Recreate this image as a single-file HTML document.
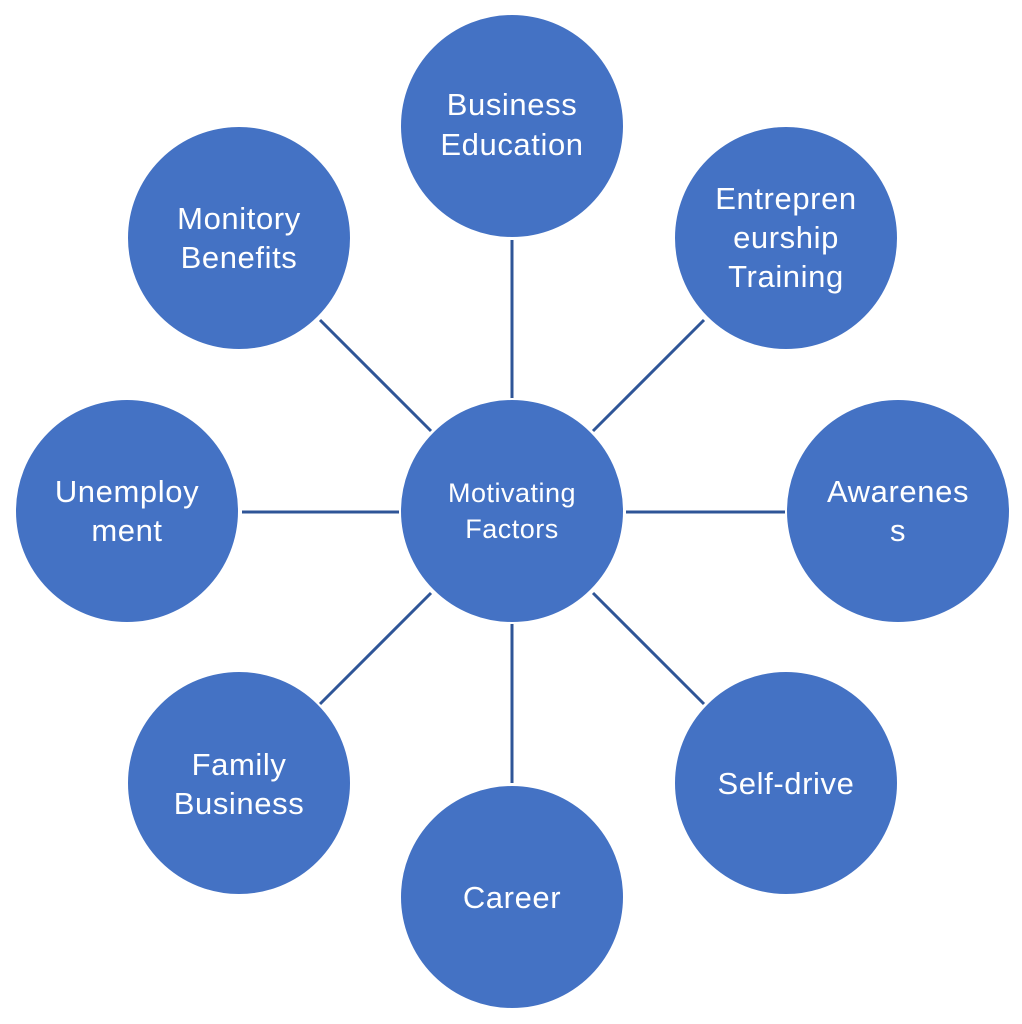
<!DOCTYPE html>
<html><head><style>body{margin:0;background:#fff}</style></head><body>
<svg width="1022" height="1024" xmlns="http://www.w3.org/2000/svg" style="display:block">
<g stroke="#2F5597" stroke-width="3">
<line x1="512" y1="240" x2="512" y2="399"/>
<line x1="512" y1="624" x2="512" y2="783"/>
<line x1="242" y1="512" x2="399" y2="512"/>
<line x1="626" y1="512" x2="785" y2="512"/>
<line x1="593" y1="431" x2="704" y2="320"/>
<line x1="431" y1="431" x2="320" y2="320"/>
<line x1="593" y1="593" x2="704" y2="704"/>
<line x1="431" y1="593" x2="320" y2="704"/>
</g>
<g fill="#4472C4" stroke="#fff" stroke-width="2">
<circle cx="512" cy="511" r="112"/>
<circle cx="512" cy="126" r="112"/>
<circle cx="512" cy="897" r="112"/>
<circle cx="127" cy="511" r="112"/>
<circle cx="898" cy="511" r="112"/>
<circle cx="786" cy="238" r="112"/>
<circle cx="239" cy="238" r="112"/>
<circle cx="786" cy="783" r="112"/>
<circle cx="239" cy="783" r="112"/>
</g>
<g fill="#fff" font-family="Liberation Sans, sans-serif" font-size="31" letter-spacing="0.6" text-anchor="middle">
<text x="512" y="502" font-size="27" letter-spacing="0.5">Motivating</text>
<text x="512" y="538" font-size="27" letter-spacing="0.5">Factors</text>
<text x="512" y="115">Business</text>
<text x="512" y="155">Education</text>
<text x="786" y="209">Entrepren</text>
<text x="786" y="248">eurship</text>
<text x="786" y="287">Training</text>
<text x="898" y="502">Awarenes</text>
<text x="898" y="541">s</text>
<text x="786" y="794">Self-drive</text>
<text x="512" y="908">Career</text>
<text x="239" y="775">Family</text>
<text x="239" y="814">Business</text>
<text x="127" y="502">Unemploy</text>
<text x="127" y="541">ment</text>
<text x="239" y="229">Monitory</text>
<text x="239" y="268">Benefits</text>
</g>
</svg>
</body></html>
